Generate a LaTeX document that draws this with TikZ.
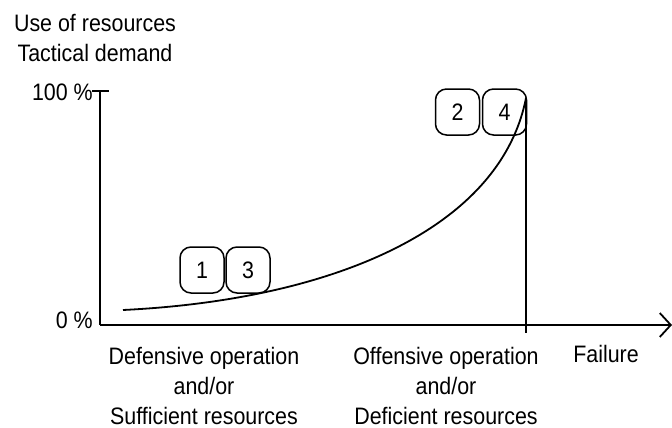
\documentclass[tikz,border=0pt]{standalone}
\usepackage{fontspec}
\setmainfont[FakeStretch=0.9]{Liberation Sans}
\usetikzlibrary{arrows.meta}
\tikzset{
  phase/.style={draw,black,line width=1.5pt,rounded corners=11pt,minimum width=44pt,minimum height=46pt,inner sep=0pt},
  lbl/.style={align=center,font=\fontsize{23.8}{30}\selectfont}
}
\begin{document}
\begin{tikzpicture}[x=1pt,y=-1pt,font=\fontsize{23.8}{30}\selectfont]
\useasboundingbox (0,0) rectangle (672,428);
\coordinate (O) at (100,325);
\coordinate (Ytop) at (100,91);
\coordinate (Xend) at (672,325);
\coordinate (Fail) at (526,98);
\coordinate (Failbot) at (526,333);
\coordinate (Start) at (123,310);
\draw[black,line width=1.8pt] (Ytop) -- (O);
\draw[black,line width=1.8pt] (92,91) -- (109,91);
\draw[black,line width=1.8pt,-{Straight Barb[length=11pt,width=24pt,line width=1.8pt]}] (O) -- (Xend);
\draw[black,line width=1.8pt] (Fail) -- (Failbot);
\draw[black,line width=1.8pt] (Start) .. controls (330,300) and (500,230) .. (Fail);
\node[phase] (one) at (202,270) {1};
\node[phase] (three) at (248,270) {3};
\node[phase] (two) at (457.5,112) {2};
\node[phase] (four) at (504.5,112) {4};
\node[lbl] (yl) at (95,38) {Use of resources\\Tactical demand};
\node[anchor=east,inner sep=0pt] (hundred) at (93,92) {100 \%};
\node[anchor=east,inner sep=0pt] (zero) at (93,320) {0 \%};
\node[lbl] (def) at (204,386) {Defensive operation\\and/or\\Sufficient resources};
\node[lbl] (off) at (446,386) {Offensive operation\\and/or\\Deficient resources};
\node (fail) at (606,354) {Failure};
\end{tikzpicture}
\end{document}
